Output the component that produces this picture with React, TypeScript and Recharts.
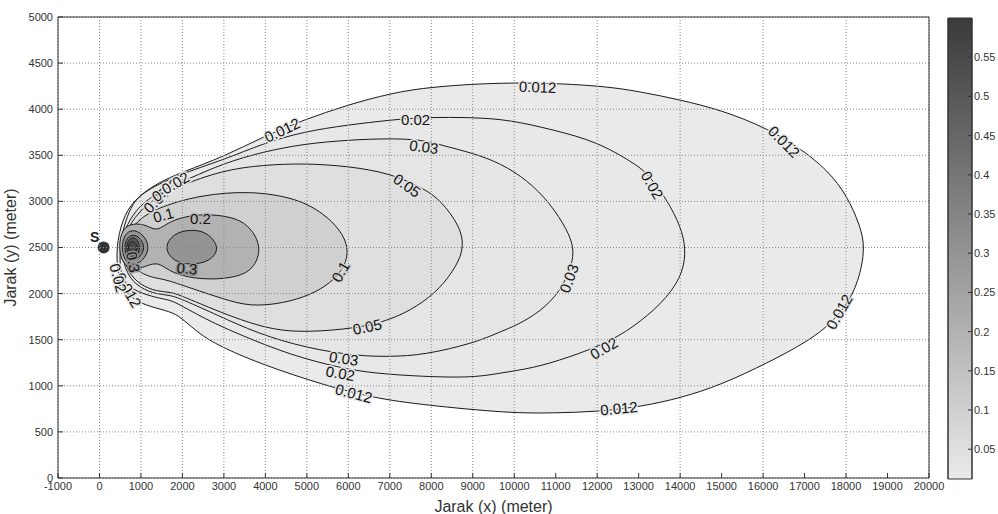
import React from 'react'
import { ScatterChart, Scatter, XAxis, YAxis, CartesianGrid, ReferenceArea } from 'recharts'

// contour lines, [x (m), y (m)], going clockwise from the left end
const c012 = [[405, 2505], [543, 2798], [815, 3015], [1387, 3200], [2022, 3322], [2987, 3484], [3952, 3702], [4917, 3883], [5978, 4046], [7016, 4172], [7981, 4244], [9911, 4298], [12002, 4262], [13049, 4190], [14014, 4100], [14979, 3992], [16104, 3796], [17069, 3525], [17703, 3268], [18118, 2983], [18395, 2657], [18427, 2500], [18395, 2310], [18185, 1985], [17703, 1695], [17069, 1478], [16104, 1247], [14979, 1009], [14014, 868], [13049, 773], [12002, 719], [10948, 705], [9911, 702], [7812, 792], [6606, 868], [5400, 1009], [3952, 1226], [2987, 1410], [2432, 1551], [1950, 1749], [1708, 1804], [1226, 1858], [815, 1931], [574, 2061], [430, 2238]]
const c02 = [[480, 2500], [598, 2744], [743, 2928], [984, 3088], [1870, 3286], [2987, 3449], [3952, 3630], [4917, 3756], [5978, 3829], [7016, 3883], [7812, 3912], [9019, 3912], [9911, 3883], [10948, 3775], [12002, 3648], [12878, 3416], [13209, 3308], [13691, 3015], [14014, 2726], [14135, 2500], [14087, 2238], [13691, 1952], [13049, 1695], [12325, 1478], [11279, 1302], [10466, 1193], [9670, 1139], [9019, 1088], [7812, 1099], [6606, 1136], [5809, 1193], [4603, 1334], [3397, 1551], [2594, 1714], [1950, 1876], [1708, 1931], [1387, 1952], [905, 2021], [663, 2093], [502, 2202]]
const c03 = [[504, 2500], [598, 2690], [864, 2907], [1346, 3091], [2191, 3251], [2987, 3413], [3952, 3539], [4917, 3623], [5978, 3666], [7016, 3684], [7812, 3666], [8222, 3612], [9019, 3522], [9670, 3413], [10314, 3232], [10870, 2979], [11279, 2690], [11438, 2500], [11399, 2310], [11110, 2021], [10628, 1804], [10072, 1659], [9670, 1587], [9019, 1461], [7812, 1334], [7016, 1316], [6212, 1323], [5006, 1407], [3800, 1569], [2835, 1768], [2029, 1931], [1708, 1985], [1387, 1992], [984, 2057], [647, 2202]]
const c05 = [[526, 2500], [622, 2668], [936, 2885], [1346, 3037], [1870, 3159], [2987, 3341], [3952, 3395], [4917, 3413], [5978, 3384], [7016, 3305], [7812, 3142], [8222, 3015], [8704, 2726], [8784, 2500], [8625, 2310], [8222, 2057], [7660, 1858], [7016, 1714], [6212, 1624], [5006, 1580], [4200, 1605], [3397, 1714], [2594, 1858], [2029, 1966], [1708, 2021], [1387, 2021], [984, 2093], [671, 2234]]
const c1 = [[574, 2500], [695, 2668], [984, 2820], [1467, 2943], [2432, 3069], [3638, 3116], [4765, 3034], [5399, 2871], [5809, 2690], [6010, 2500], [5930, 2292], [5568, 2112], [5086, 1985], [4442, 1895], [3638, 1858], [2987, 1941], [2191, 2061], [1629, 2148], [1387, 2166], [1064, 2202], [743, 2310]]
const c2 = [[454, 2500], [543, 2706], [815, 2766], [1146, 2744], [1387, 2668], [1708, 2798], [2432, 2871], [3235, 2835], [3638, 2726], [3920, 2500], [3718, 2256], [3235, 2166], [2432, 2148], [1708, 2223], [1387, 2364], [984, 2256], [574, 2288]]
const c3 = [[1546, 2500], [1788, 2654], [2191, 2697], [2594, 2671], [2914, 2500], [2673, 2346], [2191, 2310], [1788, 2346]]
const c3src = [[527, 2500], [600, 2640], [785, 2700], [1050, 2650], [1226, 2500], [1050, 2350], [785, 2300], [600, 2360]]
const c4src = [[598, 2500], [650, 2600], [800, 2646], [980, 2610], [1105, 2500], [980, 2390], [800, 2354], [650, 2400]]
const c5src = [[647, 2500], [690, 2580], [810, 2614], [920, 2585], [984, 2500], [920, 2415], [810, 2386], [690, 2420]]
const c55src = [[690, 2500], [720, 2550], [800, 2570], [880, 2550], [910, 2500], [880, 2450], [800, 2430], [720, 2450]]

// [text, x, y, angle]
const contourLabels: [string, number, number, number][] = [
  ['0.012', 10563, 4241, 2], ['0.012', 4403, 3774, -25], ['0.02', 7619, 3883, 0],
  ['0.03', 7821, 3593, 8], ['0.05', 7418, 3174, 35], ['0.012', 16505, 3648, 45],
  ['0.02', 13329, 3178, 60], ['0.1', 5809, 2238, -60], ['0.2', 2432, 2817, 0],
  ['0.3', 2111, 2274, 5], ['0.03', 11318, 2166, -70], ['0.012', 17833, 1804, -60],
  ['0.02', 12162, 1407, -30], ['0.012', 12524, 756, -5], ['0.05', 6454, 1641, -12],
  ['0.03', 5890, 1298, 8], ['0.02', 5809, 1136, 10], ['0.012', 6131, 919, 15],
  ['0.1', 1540, 2853, -15], ['0.05', 1370, 3015, -45], ['0.03', 1588, 3124, -35],
  ['0.02', 1829, 3200, -30], ['0.012', 695, 2039, 60], ['0.02', 454, 2169, 75],
  ['0.3', 815, 2343, 80],
]

const source = [{ x: 100, y: 2500 }]

const xTicks = [-1000, 0, 1000, 2000, 3000, 4000, 5000, 6000, 7000, 8000, 9000, 10000, 11000, 12000, 13000, 14000, 15000, 16000, 17000, 18000, 19000, 20000]
const yTicks = [0, 500, 1000, 1500, 2000, 2500, 3000, 3500, 4000, 4500, 5000]
const barTicks = [0.05, 0.1, 0.15, 0.2, 0.25, 0.3, 0.35, 0.4, 0.45, 0.5, 0.55]
const barDomain = [0.012, 0.6]

const contours = [
  { level: 0.012, pts: c012 }, { level: 0.02, pts: c02 }, { level: 0.03, pts: c03 },
  { level: 0.05, pts: c05 }, { level: 0.1, pts: c1 }, { level: 0.2, pts: c2 },
  { level: 0.3, pts: c3 }, { level: 0.3, pts: c3src }, { level: 0.4, pts: c4src },
  { level: 0.5, pts: c5src }, { level: 0.55, pts: c55src },
].map((c) => ({ level: c.level, pts: c.pts.map(([x, y]) => ({ x, y })) }))

const labelData = contourLabels.map(([t, x, y, a]) => ({ x, y, t, a, lv: parseFloat(t) }))

const W = 998
const H = 514
const FONT = '"Liberation Sans", Arial, sans-serif'

const gray = (v: number) => {
  const g = Math.round(234 - ((v - barDomain[0]) / (barDomain[1] - barDomain[0])) * 176)
  return `rgb(${g},${g},${g})`
}

const noDot = () => <g />

const renderLabel = (p: any) => {
  const { cx, cy, payload } = p
  return (
    <text x={cx} y={cy} transform={`rotate(${payload.a} ${cx} ${cy})`} textAnchor="middle"
      dominantBaseline="central" fontSize={15} fontFamily={FONT} fill="#111"
      stroke={gray(payload.lv)} strokeWidth={3} paintOrder="stroke">
      {payload.t}
    </text>
  )
}

const renderSource = (p: any) => (
  <g>
    <circle cx={p.cx} cy={p.cy} r={6} fill="#333" />
    <text x={p.cx - 9} y={p.cy - 11} textAnchor="middle" dominantBaseline="central"
      fontSize={14} fontWeight="bold" fontFamily={FONT} fill="#222">S</text>
  </g>
)

const YTitle = (props: any) => {
  const { x, y, height } = props.viewBox
  const cx = x + 10
  const cy = y + height / 2
  return (
    <text x={cx} y={cy} transform={`rotate(-90 ${cx} ${cy})`} textAnchor="middle"
      dominantBaseline="central" fontSize={16} fontFamily={FONT} fill="#333">
      Jarak (y) (meter)
    </text>
  )
}

const tickStyle = { fontSize: 11, fill: '#333', fontFamily: FONT }

export default function App() {
  return (
    <div style={{ position: 'absolute', left: 0, top: 0, width: W, height: H, background: '#fff' }}>
      <div style={{ position: 'absolute', left: 0, top: 0 }}>
        <ScatterChart width={W} height={H} margin={{ top: 17, right: 69, bottom: 36, left: 58 }}>
          <XAxis type="number" dataKey="x" domain={[-1000, 20000]} ticks={xTicks} hide allowDataOverflow />
          <YAxis type="number" dataKey="y" domain={[0, 5000]} ticks={yTicks} hide allowDataOverflow />
          {contours.map((c, i) => (
            <Scatter key={i} data={c.pts} isAnimationActive={false} shape={noDot}
              line={{ stroke: '#1a1a1a', strokeWidth: 1, fill: gray(c.level) }}
              lineJointType="basisClosed" />
          ))}
          <Scatter data={labelData} isAnimationActive={false} shape={renderLabel} />
          <Scatter data={source} isAnimationActive={false} shape={renderSource} />
        </ScatterChart>
      </div>

      <div style={{ position: 'absolute', left: 0, top: 0 }}>
        <ScatterChart width={W} height={H} margin={{ top: 16, right: 68, bottom: 0, left: 0 }}>
          <CartesianGrid strokeDasharray="1 2" stroke="#888" />
          <XAxis type="number" dataKey="x" domain={[-1000, 20000]} ticks={xTicks} allowDataOverflow
            height={36} tickSize={-5} tickMargin={9} tick={tickStyle} stroke="#333"
            label={{ value: 'Jarak (x) (meter)', position: 'insideBottom', offset: 2, fontSize: 16, fill: '#333', fontFamily: FONT }} />
          <XAxis xAxisId="top" orientation="top" type="number" domain={[-1000, 20000]} ticks={xTicks}
            allowDataOverflow height={1} tick={false} tickSize={-5} stroke="#333" />
          <YAxis type="number" dataKey="y" domain={[0, 5000]} ticks={yTicks} allowDataOverflow
            width={58} tickSize={-5} tickMargin={10} tick={tickStyle} stroke="#333" label={YTitle} />
          <YAxis yAxisId="right" orientation="right" type="number" domain={[0, 5000]} ticks={yTicks}
            allowDataOverflow width={1} tick={false} tickSize={-5} stroke="#333" />
          <Scatter data={[{ x: -1000, y: 0 }]} isAnimationActive={false} shape={noDot} />
        </ScatterChart>
      </div>

      <div style={{ position: 'absolute', left: 947, top: 0 }}>
        <ScatterChart width={51} height={H} margin={{ top: 18, right: 0, bottom: 35, left: 0 }}>
          <defs>
            <linearGradient id="cbar" x1="0" y1="1" x2="0" y2="0">
              <stop offset="0" stopColor={gray(barDomain[0])} />
              <stop offset="1" stopColor={gray(barDomain[1])} />
            </linearGradient>
          </defs>
          <XAxis type="number" dataKey="x" domain={[0, 1]} hide allowDataOverflow />
          <YAxis type="number" dataKey="y" orientation="right" domain={barDomain} ticks={barTicks}
            allowDataOverflow width={26} tickSize={-4} tickMargin={6} tick={tickStyle} stroke="#333" />
          <YAxis yAxisId="l" orientation="left" type="number" domain={barDomain} ticks={barTicks}
            allowDataOverflow width={1} tick={false} tickSize={-4} stroke="#333" />
          <ReferenceArea x1={0} x2={1} y1={barDomain[0]} y2={barDomain[1]} fill="url(#cbar)"
            fillOpacity={1} stroke="#333" />
          <Scatter data={[{ x: 0, y: 0.012 }]} isAnimationActive={false} shape={noDot} />
        </ScatterChart>
      </div>
    </div>
  )
}
